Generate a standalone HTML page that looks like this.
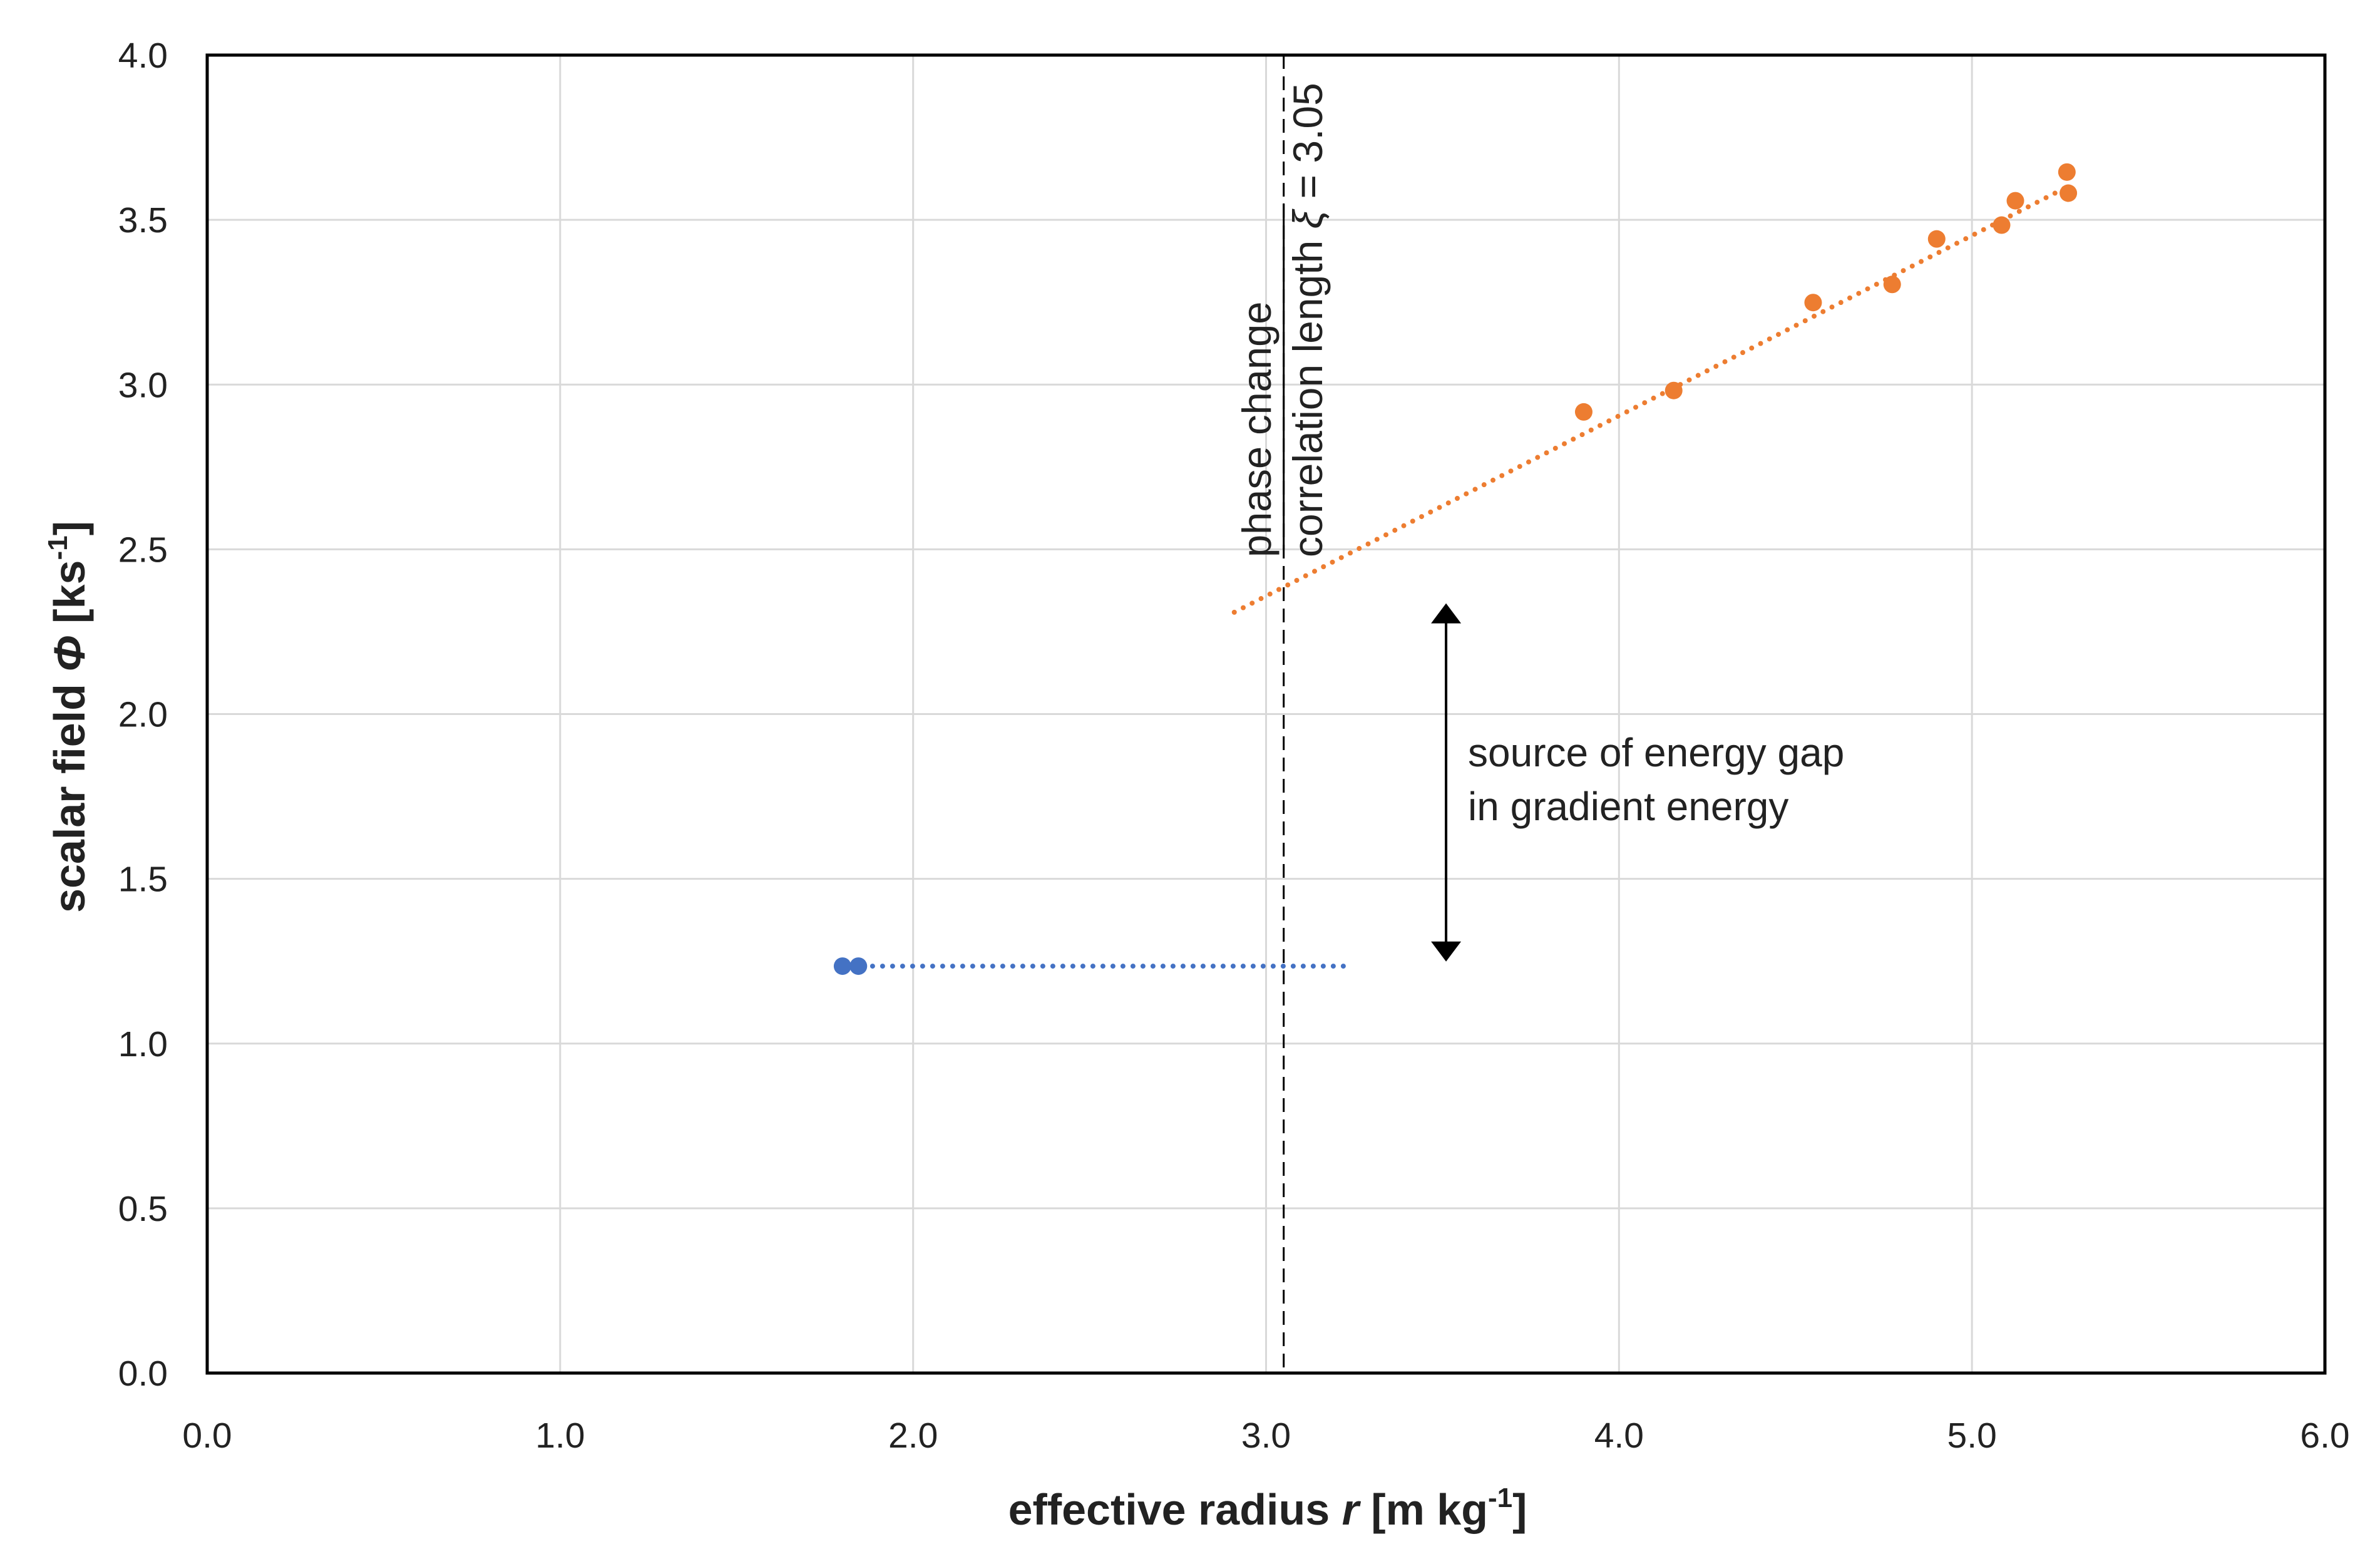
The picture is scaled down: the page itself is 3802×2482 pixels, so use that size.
<!DOCTYPE html>
<html><head><meta charset="utf-8"><style>
html,body{margin:0;padding:0;background:#fff;}
svg{display:block;}
text{font-family:"Liberation Sans",sans-serif;}
</style></head><body>
<svg id="chart" width="3802" height="2482" viewBox="0 0 3802 2482" xmlns="http://www.w3.org/2000/svg">
<g id="grid"></g>
<g id="marks"></g>
<g id="labels"></g>
</svg>
<script>
const xTicks = [0,1,2,3,4,5,6];
const yTicks = [0,0.5,1,1.5,2,2.5,3,3.5,4];
const xTickLabels = ["0.0","1.0","2.0","3.0","4.0","5.0","6.0"];
const yTickLabels = ["0.0","0.5","1.0","1.5","2.0","2.5","3.0","3.5","4.0"];
const orangeX = [3.90,4.155,4.55,4.774,4.90,5.084,5.123,5.269,5.273];
const orangeY = [2.917,2.982,3.249,3.304,3.442,3.484,3.558,3.645,3.581];
const orangeTrendX = [2.91,5.27];
const orangeTrendY = [2.309,3.60];
const blueX = [1.80,1.845];
const blueY = [1.235,1.235];
const blueTrendX = [1.80,3.234];
const blueTrendY = [1.235,1.235];
const xiValue = [3.05];
const arrowX = [3.51];
const arrowY = [2.336,1.249];

const L=331,R=3714,T=88,B=2193;
const sx=v=>L+(v-0)/(6-0)*(R-L);
const sy=v=>B-(v-0)/(4-0)*(B-T);
const NS="http://www.w3.org/2000/svg";
function mk(tag,attrs,parent){const e=document.createElementNS(NS,tag);for(const k in attrs)e.setAttribute(k,attrs[k]);parent.appendChild(e);return e;}
const grid=document.getElementById('grid'),marks=document.getElementById('marks'),labels=document.getElementById('labels');

xTicks.forEach((t,i)=>{
  if(t>0&&t<6){const g=mk('line',{x1:sx(t),x2:sx(t),y1:T,y2:B,stroke:'#d9d9d9','stroke-width':3},grid);
  
  }
  const tx=mk('text',{x:sx(t),y:2312,'text-anchor':'middle','font-size':57,fill:'#222'},labels);
  tx.textContent=xTickLabels[i];
  
  
});
yTicks.forEach((t,i)=>{
  if(t>0&&t<4){const g=mk('line',{x1:L,x2:R,y1:sy(t),y2:sy(t),stroke:'#d9d9d9','stroke-width':3},grid);
  
  }
  const tx=mk('text',{x:268,y:sy(t)+20,'text-anchor':'end','font-size':57,fill:'#222'},labels);
  tx.textContent=yTickLabels[i];
  
  
});

const xl=mk('line',{x1:sx(xiValue[0]),x2:sx(xiValue[0]),y1:T,y2:B,stroke:'#000','stroke-width':3,'stroke-dasharray':'22 12'},marks);


const xs=mk('line',{x1:sx(xiValue[0]),x2:sx(xiValue[0]),y1:sy(3.55),y2:sy(2.5),stroke:'#000','stroke-width':3},marks);



const ot=mk('line',{x1:sx(orangeTrendX[0]),y1:sy(orangeTrendY[0]),x2:sx(orangeTrendX[1]),y2:sy(orangeTrendY[1]),stroke:'#ed7d31','stroke-width':8,'stroke-linecap':'round','stroke-dasharray':'0 16'},marks);


const bt=mk('line',{x1:sx(blueTrendX[0]),y1:sy(blueTrendY[0]),x2:sx(blueTrendX[1]),y2:sy(blueTrendY[1]),stroke:'#4472c4','stroke-width':8,'stroke-linecap':'round','stroke-dasharray':'0 16'},marks);



orangeX.forEach((x,i)=>{const c=mk('circle',{cx:sx(x),cy:sy(orangeY[i]),r:14,fill:'#ed7d31'},marks);

});
blueX.forEach((x,i)=>{const c=mk('circle',{cx:sx(x),cy:sy(blueY[i]),r:14,fill:'#4472c4'},marks);

});

const ax=sx(arrowX[0]),ay1=sy(arrowY[0]),ay2=sy(arrowY[1]);
const al=mk('line',{x1:ax,x2:ax,y1:ay1+30,y2:ay2-30,stroke:'#000','stroke-width':4},marks);


const ah1=mk('polygon',{points:`${ax},${ay1} ${ax-24},${ay1+32} ${ax+24},${ay1+32}`,fill:'#000'},marks);


const ah2=mk('polygon',{points:`${ax},${ay2} ${ax-24},${ay2-32} ${ax+24},${ay2-32}`,fill:'#000'},marks);



const fr=mk('rect',{x:L,y:T,width:R-L,height:B-T,fill:'none',stroke:'#000','stroke-width':5},marks);



function txt(s,attrs,name){const t=mk('text',attrs,labels);t.textContent=s;return t;}
txt('source of energy gap',{x:2345,y:1224,'font-size':64,fill:'#222'},'annotation-line-1');
txt('in gradient energy',{x:2345,y:1310,'font-size':64,fill:'#222'},'annotation-line-2');
txt('phase change',{x:0,y:0,'font-size':65,fill:'#222',transform:'translate(2030,890) rotate(-90)'},'phase-change-label');
const cl=mk('text',{x:0,y:0,'font-size':66,fill:'#222',transform:'translate(2112,890) rotate(-90)'},labels);
cl.innerHTML='correlation length <tspan font-style="italic">ξ</tspan> = 3.05';


const xt=mk('text',{x:2025,y:2435,'text-anchor':'middle','font-size':70,'font-weight':'bold',fill:'#222'},labels);
xt.innerHTML='effective radius <tspan font-style="italic">r</tspan> [m kg<tspan dy="-28" font-size="44">-1</tspan><tspan dy="28">]</tspan>';


const yt=mk('text',{x:0,y:0,'text-anchor':'middle','font-size':70,'font-weight':'bold',fill:'#222',transform:'translate(135,1145) rotate(-90)'},labels);
yt.innerHTML='scalar field <tspan font-style="italic">Φ</tspan> [ks<tspan dy="-28" font-size="44">-1</tspan><tspan dy="28">]</tspan>';


</script>
</body></html>
